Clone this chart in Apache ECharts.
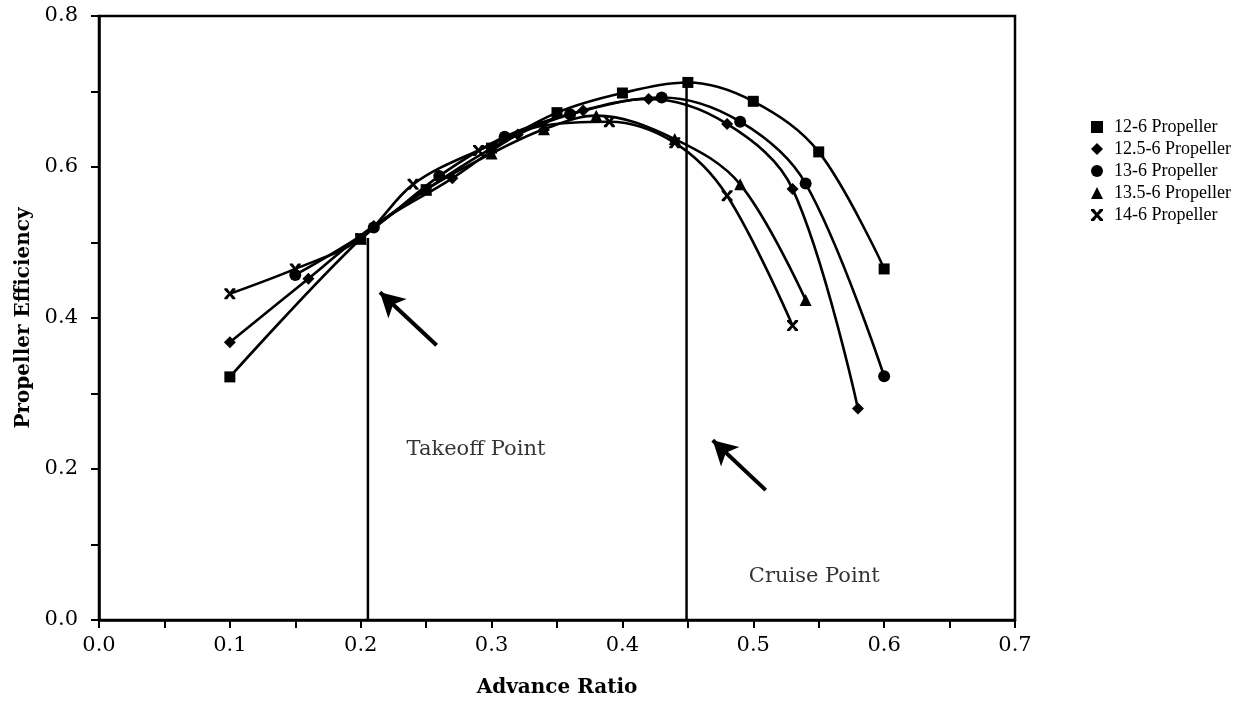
<!DOCTYPE html>
<html><head><meta charset="utf-8">
<script src="https://cdn.jsdelivr.net/npm/echarts@6/dist/echarts.min.js"></script>
<style>html,body{margin:0;padding:0;background:#fff}#c{width:1237px;height:704px}</style>
</head><body><div id="c"></div>
<script>
const seriesNames = ['12-6 Propeller','12.5-6 Propeller','13-6 Propeller','13.5-6 Propeller','14-6 Propeller'];
const prop12 = [[0.1,0.322],[0.2,0.505],[0.25,0.57],[0.3,0.625],[0.35,0.672],[0.4,0.698],[0.45,0.712],[0.5,0.687],[0.55,0.62],[0.6,0.465]];
const prop125 = [[0.1,0.368],[0.16,0.452],[0.21,0.522],[0.27,0.585],[0.32,0.643],[0.37,0.675],[0.42,0.69],[0.48,0.657],[0.53,0.571],[0.58,0.28]];
const prop13 = [[0.15,0.457],[0.21,0.52],[0.26,0.588],[0.31,0.64],[0.36,0.67],[0.43,0.692],[0.49,0.66],[0.54,0.578],[0.6,0.323]];
const prop135 = [[0.2,0.505],[0.25,0.57],[0.3,0.618],[0.34,0.65],[0.38,0.668],[0.44,0.637],[0.49,0.577],[0.54,0.424]];
const prop14 = [[0.1,0.432],[0.15,0.465],[0.2,0.505],[0.24,0.577],[0.29,0.622],[0.34,0.655],[0.39,0.66],[0.44,0.632],[0.48,0.562],[0.53,0.39]];
const takeoffLine = [[0.2055,0],[0.2055,0.506]];
const cruiseLine = [[0.449,0],[0.449,0.714]];
const takeoffArrow = [[0.258,0.364],[0.2147,0.434]];
const cruiseArrow = [[0.5095,0.172],[0.469,0.238]];
const notes = [{text:'Takeoff Point', at:[0.235,0.226]},{text:'Cruise Point', at:[0.4966,0.058]}];
const xTicks = {min:0, max:0.7, step:0.05};
const yTicks = {min:0, max:0.8, step:0.1};

const crossPath = 'path://M0,0 L2.6,0 L5,3.2 L7.4,0 L10,0 L10,1.5 L6.6,5 L10,8.5 L10,10 L7.4,10 L5,6.8 L2.6,10 L0,10 L0,8.5 L3.4,5 L0,1.5 Z';
const symbols = ['rect','diamond','circle','triangle',crossPath];
const sizes = [11,12,12,12,11];
const datasets = [prop12,prop125,prop13,prop135,prop14];
const serif = '"Liberation Serif","DejaVu Serif",serif';
const wide = '"DejaVu Serif","Liberation Serif",serif';

const series = datasets.map((d,i)=>({
  name: seriesNames[i], type:'line', data:d, smooth:0.35,
  symbol: symbols[i], symbolSize: sizes[i], showAllSymbol:true,
  lineStyle:{color:'#000', width:2.6}, itemStyle:{color:'#000'}, z:3
}));
function seg(data){
  return {type:'line', data:data, symbol:'none', silent:true,
    lineStyle:{color:'#000', width:2.5}, z:2};
}
series.push(seg(takeoffLine)); series.push(seg(cruiseLine));
[takeoffArrow, cruiseArrow].forEach(a=>{
  series.push({type:'line', data:[], silent:true,
    markLine:{silent:true, symbol:['none','arrow'], symbolSize:[20,24], animation:false,
      lineStyle:{color:'#000', width:4, type:'solid'}, label:{show:false},
      data:[[{coord:a[0]},{coord:a[1]}]]}});
});
series.push({type:'scatter', data:notes.map(n=>({value:n.at, name:n.text})), symbolSize:0, silent:true,
  label:{show:true, position:'right', distance:0, formatter:p=>p.name, color:'#000', fontSize:21, fontFamily:wide, textBorderWidth:0}});

const chart = echarts.init(document.getElementById('c'));
chart.setOption({
  animation:false,
  backgroundColor:'#fff',
  grid:{left:99, right:222, top:16, bottom:84, show:true, borderColor:'#000', borderWidth:2.5},
  legend:{
    data: seriesNames.map((n,i)=>({name:n, icon:symbols[i]})),
    orient:'vertical', left:1086, top:113, itemWidth:12, itemHeight:12, itemGap:4,
    textStyle:{color:'#000', fontSize:18, fontFamily:serif, padding:[0,0,0,6]}
  },
  xAxis:{type:'value', min:xTicks.min, max:xTicks.max, interval:xTicks.step,
    name:'Advance Ratio', nameLocation:'middle', nameGap:58,
    nameTextStyle:{color:'#000', fontSize:20, fontWeight:'bold', fontFamily:wide},
    axisLine:{lineStyle:{color:'#000', width:2.5}},
    axisTick:{show:true, inside:false, length:8, lineStyle:{color:'#000', width:2}},
    axisLabel:{color:'#000', fontSize:21, fontFamily:wide, margin:15, interval:0,
      formatter:v=>{const k=Math.round(v*100); return k%10===0?(v).toFixed(1):'';}},
    splitLine:{show:false}},
  yAxis:{type:'value', min:yTicks.min, max:yTicks.max, interval:yTicks.step,
    name:'Propeller Efficiency', nameLocation:'middle', nameGap:50,
    nameTextStyle:{color:'#000', fontSize:20, fontWeight:'bold', fontFamily:wide},
    axisLine:{lineStyle:{color:'#000', width:2.5}},
    axisTick:{show:true, inside:false, length:8, lineStyle:{color:'#000', width:2}},
    axisLabel:{color:'#000', fontSize:21, fontFamily:wide, margin:21,
      formatter:v=>{const k=Math.round(v*10); return k%2===0?v.toFixed(1):'';}},
    splitLine:{show:false}},
  series: series
});
</script></body></html>
